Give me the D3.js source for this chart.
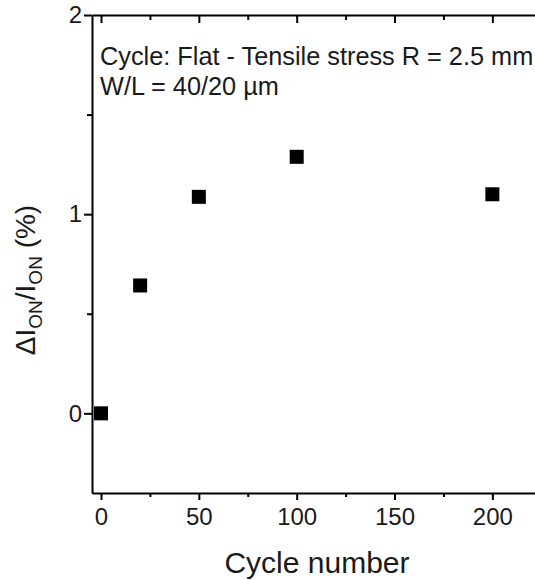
<!DOCTYPE html>
<html lang="en">
<head>
  <meta charset="UTF-8"/>
  <title>Cycle number vs dION/ION</title>
  <script src="https://d3js.org/d3.v7.min.js"></script>
  <style>
    body { margin: 0; background: #fff; }
    text { font-family: Arial, "Liberation Sans", sans-serif; fill: #1a1a1a; }
  </style>
</head>
<body>
<script>

  var cycles = [0, 20, 50, 100, 200];
  var deltaIon = [0, 0.642, 1.087, 1.288, 1.10];

  var xTicks = [0, 50, 100, 150, 200];
  var xMinor = [25, 75, 125, 175];
  var yTicks = [0, 1, 2];
  var yMinor = [0.5, 1.5];

  var w = 535;
  var h = 580;

  var x = d3.scaleLinear()
    .domain([-4.6, 222.3])
    .range([92, 536]);

  var y = d3.scaleLinear()
    .domain([-0.4, 2])
    .range([493, 15]);

  var svg = d3.select("body")
    .append("svg")
    .attr("width", w)
    .attr("height", h);

  // bottom axis
  svg.append("g")
    .attr("transform", "translate(0," + y(-0.4) + ")")
    .call(d3.axisBottom(x).tickValues(xTicks).tickFormat(d3.format("d"))
      .tickSizeInner(7).tickSizeOuter(0).tickPadding(8));
  svg.append("g")
    .attr("transform", "translate(0," + y(-0.4) + ")")
    .call(d3.axisBottom(x).tickValues(xMinor).tickSize(4).tickFormat(""))
    .select(".domain").remove();

  // top axis, ticks inward
  svg.append("g")
    .attr("transform", "translate(0," + y(2) + ")")
    .call(d3.axisBottom(x).tickValues(xTicks).tickSizeInner(8).tickSizeOuter(0).tickFormat(""));
  svg.append("g")
    .attr("transform", "translate(0," + y(2) + ")")
    .call(d3.axisBottom(x).tickValues(xMinor).tickSize(5).tickFormat(""))
    .select(".domain").remove();

  // left axis
  svg.append("g")
    .attr("transform", "translate(" + x(-4.6) + ",0)")
    .call(d3.axisLeft(y).tickValues(yTicks).tickFormat(d3.format("d"))
      .tickSizeInner(8).tickSizeOuter(0).tickPadding(2));
  svg.append("g")
    .attr("transform", "translate(" + x(-4.6) + ",0)")
    .call(d3.axisLeft(y).tickValues(yMinor).tickSize(5).tickFormat(""))
    .select(".domain").remove();

  svg.selectAll(".domain").attr("stroke", "#000").attr("stroke-width", 2);
  svg.selectAll(".tick line").attr("stroke", "#000").attr("stroke-width", 2);
  svg.selectAll(".tick text")
    .attr("font-size", 24)
    .attr("font-family", "Arial, 'Liberation Sans', sans-serif")
    .attr("fill", "#1a1a1a");

  // points
  var size = 14;
  svg.selectAll("rect.pt")
    .data(cycles)
    .enter()
    .append("rect")
    .attr("class", "pt")
    .attr("x", function(d) { return x(d) - size / 2; })
    .attr("y", function(d, i) { return y(deltaIon[i]) - size / 2; })
    .attr("width", size)
    .attr("height", size)
    .attr("fill", "#000");

  // annotation
  svg.append("text")
    .attr("x", 100)
    .attr("y", 65)
    .attr("font-size", 25.3)
    .text("Cycle: Flat - Tensile stress R = 2.5 mm");
  svg.append("text")
    .attr("x", 100)
    .attr("y", 95)
    .attr("font-size", 25.3)
    .text("W/L = 40/20 \u00b5m");

  // axis titles
  svg.append("text")
    .attr("x", 317)
    .attr("y", 573)
    .attr("text-anchor", "middle")
    .attr("font-size", 30)
    .text("Cycle number");

  var yt = svg.append("text")
    .attr("transform", "translate(35,280) rotate(-90)")
    .attr("text-anchor", "middle")
    .attr("font-size", 28);
  yt.append("tspan").text("\u0394I");
  yt.append("tspan").attr("font-size", 19).attr("dy", 7).text("ON");
  yt.append("tspan").attr("dy", -7).text("/I");
  yt.append("tspan").attr("font-size", 19).attr("dy", 7).text("ON");
  yt.append("tspan").attr("dy", -7).text(" (%)");

</script>
</body>
</html>
